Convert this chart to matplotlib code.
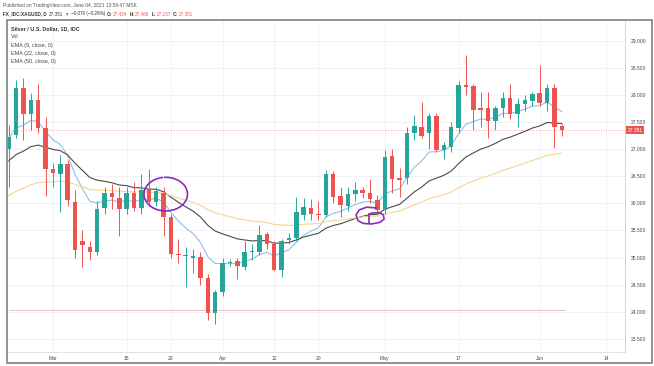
import numpy as np
import pandas as pd
import matplotlib
matplotlib.use('Agg')
import matplotlib.pyplot as plt
from matplotlib.patches import Rectangle, Arc
from matplotlib.transforms import blended_transform_factory

plt.rcParams['font.family'] = ['Liberation Sans', 'DejaVu Sans']

# trading days, 2021-02-19 .. 2021-06-04 (76 bars), extended to Jun 14 for the axis
days = pd.bdate_range('2021-02-19', '2021-06-14')
n_bars = 76

opens = [27.01, 27.26, 28.12, 27.64, 27.91, 27.38,
         26.63, 26.54, 26.73, 26.03, 25.31, 25.20, 25.10, 25.92, 26.19, 26.09,
         25.89, 26.20, 25.91, 26.26, 26.03, 26.20, 25.74, 25.07, 25.03, 25.00,
         25.02, 24.62, 23.98, 24.37, 24.90, 24.93, 24.83, 25.10, 25.11, 25.43,
         25.25, 24.78, 25.33, 25.37, 25.79, 25.91, 25.80, 25.79, 26.54, 26.14,
         25.95, 26.17, 26.24, 26.20, 26.07, 25.88, 26.87, 26.47, 26.46, 27.29,
         27.40, 27.29, 27.61, 26.99, 27.04, 27.38, 28.18, 28.16, 27.75, 27.75,
         27.52, 27.75, 27.95, 27.65, 27.83, 27.89, 28.04, 27.85, 28.13, 27.434]
highs = [27.45, 28.28, 28.32, 28.03, 28.20, 27.59,
         26.75, 26.90, 26.80, 26.25, 25.50, 25.30, 26.05, 26.30, 26.35, 26.31,
         26.30, 26.40, 26.55, 26.63, 26.30, 26.30, 25.80, 25.35, 25.20, 25.16,
         25.10, 24.70, 24.40, 25.00, 24.97, 25.00, 25.30, 25.25, 25.60, 25.48,
         25.30, 25.35, 25.45, 26.12, 26.10, 26.08, 26.05, 26.62, 26.60, 26.30,
         26.30, 26.40, 26.30, 26.44, 26.15, 26.98, 27.00, 26.65, 27.40, 27.63,
         27.87, 27.67, 27.67, 27.13, 27.50, 28.25, 28.73, 28.20, 28.05, 28.06,
         27.80, 28.05, 28.20, 27.95, 28.00, 28.05, 28.55, 28.20, 28.20, 27.469]
lows = [26.30, 27.20, 27.16, 27.35, 27.30, 26.14,
        26.30, 25.84, 25.95, 25.00, 24.83, 24.95, 25.05, 25.80, 25.90, 25.39,
        25.80, 25.85, 25.80, 25.95, 25.95, 25.39, 25.00, 24.90, 24.46, 24.72,
        24.50, 23.85, 23.78, 24.30, 24.85, 24.60, 24.78, 24.95, 25.05, 25.15,
        24.75, 24.65, 25.25, 25.30, 25.70, 25.70, 25.70, 25.75, 26.00, 25.75,
        25.85, 26.05, 26.10, 26.00, 25.80, 25.80, 26.20, 26.11, 26.35, 27.16,
        27.20, 27.00, 26.95, 26.82, 26.95, 27.30, 28.00, 27.35, 27.40, 27.20,
        27.35, 27.60, 27.55, 27.40, 27.70, 27.80, 27.80, 27.70, 27.02, 27.237]
closes = [27.23, 28.12, 27.64, 27.90, 27.38, 26.63,
          26.56, 26.73, 26.06, 25.14, 25.23, 25.10, 25.90, 26.19, 26.11, 25.89,
          26.20, 25.91, 26.24, 26.03, 26.22, 25.74, 25.07, 25.04, 25.04, 25.03,
          24.62, 23.98, 24.37, 24.90, 24.92, 24.85, 25.11, 25.12, 25.41, 25.25,
          24.78, 25.31, 25.37, 25.84, 25.93, 25.80, 25.78, 26.54, 26.11, 25.97,
          26.17, 26.24, 26.20, 26.08, 25.88, 26.86, 26.44, 26.43, 27.29, 27.43,
          27.24, 27.61, 26.99, 27.07, 27.40, 28.18, 28.14, 27.72, 27.73, 27.52,
          27.75, 27.95, 27.65, 27.84, 27.90, 28.01, 27.85, 28.13, 27.40, 27.351]

ema_spans = [9, 22, 50]
ema_seed = [27.20, 26.74, 26.10]   # value just before the first bar
ema_colors = ['#8dc1ea', '#4b4b4b', '#f8d490']

tick_dates = ['2021-03-01', '2021-03-15', '2021-03-23', '2021-04-01', '2021-04-12',
              '2021-04-20', '2021-05-03', '2021-05-17', '2021-06-01', '2021-06-14']
tick_names = ['Mar', '15', '23', 'Apr', '12', '20', 'May', '17', 'Jun', '14']
price_ticks = [23.5, 24.0, 24.5, 25.0, 25.5, 26.0, 26.5, 27.0, 27.5, 28.0, 28.5, 29.0]

legend_lines = ['Vol', 'EMA (9, close, 0)', 'EMA (22, close, 0)', 'EMA (50, close, 0)']

UP = '#26a69a'
DOWN = '#ef5350'
W, H = 654, 366


def ema(values, span, seed):
    k = 2.0 / (span + 1)
    out = []
    e = seed
    for v in values:
        e = e + k * (v - e)
        out.append(e)
    return out


def fx(px):
    return px / W


def fy(py):
    return 1 - py / H


fig = plt.figure(figsize=(W / 100, H / 100), dpi=100)
ax = fig.add_axes([fx(8), fy(352), fx(625) - fx(8), fy(20) - fy(352)])

x = np.arange(n_bars)

# EMA lines
for span, seed, col in zip(ema_spans, ema_seed, ema_colors):
    ax.plot(x, ema(closes, span, seed), color=col, lw=0.8, zorder=2)

# candles
for i in range(n_bars):
    o, h, l, c = opens[i], highs[i], lows[i], closes[i]
    col = UP if c >= o else DOWN
    ax.vlines(x[i], l, h, color=col, lw=0.7, zorder=3)
    ax.bar(x[i], max(abs(c - o), 0.015), bottom=min(o, c), width=0.62,
           color=col, zorder=4)

# last price line + horizontal line at 24
ax.axhline(closes[-1], color=DOWN, lw=0.6, ls=(0, (1, 2)), alpha=0.7, zorder=1)
ax.hlines(24.03, x[0], x[-1] + 0.5, color='#f0b4b4', lw=0.6, zorder=1)

# hand drawn purple marks
ax.add_patch(Arc((21.3, 26.17), 5.9, 0.62, theta1=140, theta2=490,
                 color='#8e2bb5', lw=1.2, zorder=6))
loop_x = [49.9, 48.55, 47.55, 47.1, 47.37, 48.1, 49.2, 50.35, 50.9, 50.8, 50.25, 49.2, 48.9]
loop_y = [25.915, 25.93, 25.88, 25.79, 25.68, 25.63, 25.62, 25.65, 25.71, 25.79, 25.83, 25.82, 25.80]
ax.plot(loop_x, loop_y, color='#8e2bb5', lw=1.2, zorder=6, solid_capstyle='round')
ax.plot([48.9, 48.9], [25.80, 25.63], color='#8e2bb5', lw=1.2, zorder=6)

# axes
tick_pos = [days.get_loc(pd.Timestamp(d)) for d in tick_dates]
ax.set_xlim(-0.09, 83.57)
ax.set_ylim(23.26, 29.38)
ax.set_xticks(tick_pos)
ax.set_xticklabels(tick_names)
ax.set_yticks(price_ticks)
ax.set_yticklabels(['%.3f' % p for p in price_ticks])
ax.yaxis.tick_right()
ax.tick_params(axis='both', length=0, labelsize=3.6, labelcolor='#4a4a4a')
ax.tick_params(axis='y', pad=4)
ax.tick_params(axis='x', pad=3.2)
ax.grid(color='#eef0f4', lw=0.6, zorder=0)
ax.set_axisbelow(True)
for s in ['left', 'top']:
    ax.spines[s].set_visible(False)
ax.spines['right'].set_color('#d6d6d6')
ax.spines['right'].set_linewidth(0.7)
ax.spines['bottom'].set_color('#e2e2e2')
ax.spines['bottom'].set_linewidth(0.7)

# price label on the scale
tr = blended_transform_factory(ax.transAxes, ax.transData)
ax.text(1.004, closes[-1], '%.3f' % closes[-1], transform=tr, fontsize=3.6,
        color='white', va='center', ha='left', clip_on=False, zorder=10,
        bbox=dict(boxstyle='square,pad=0.35', fc=DOWN, ec='none'))

# outer frame
fig.add_artist(Rectangle((fx(7), fy(363)), fx(652) - fx(7), fy(20) - fy(363),
                         transform=fig.transFigure, fill=False, ec='#8a8a8a', lw=1.3))

# legend
fig.text(fx(11), fy(29), 'Silver / U.S. Dollar, 1D, IDC', fontsize=3.9,
         fontweight='bold', color='#333333', va='center')
for k, t in enumerate(legend_lines):
    fig.text(fx(11), fy(37 + 8 * k), t, fontsize=3.9, color='#444444', va='center')

# header
fig.text(fx(3), fy(5), 'Published on TradingView.com, June 04, 2021 13:59:47 MSK',
         fontsize=3.5, color='#555555', va='center')
head = [('FX_IDC:XAGUSD, D', '#333333', 'bold', 2),
        ('27.351', '#333333', 'normal', 1.5),
        ('\u25bc', DOWN, 'normal', 1.5),
        ('\u22120.070 (\u22120.26%)', '#333333', 'normal', 2),
        ('O:', '#333333', 'bold', 1),
        ('27.434', DOWN, 'normal', 2),
        ('H:', '#333333', 'bold', 1),
        ('27.469', DOWN, 'normal', 2),
        ('L:', '#333333', 'bold', 1),
        ('27.237', DOWN, 'normal', 2),
        ('C:', '#333333', 'bold', 1),
        ('27.351', DOWN, 'normal', 0)]
renderer = fig.canvas.get_renderer()
cur = 3.0
for t, col, wt, gap in head:
    txt = fig.text(fx(cur), fy(14), t, fontsize=3.3, color=col, fontweight=wt, va='center')
    cur = txt.get_window_extent(renderer).x1 + gap

plt.savefig('out.png', dpi=100)
